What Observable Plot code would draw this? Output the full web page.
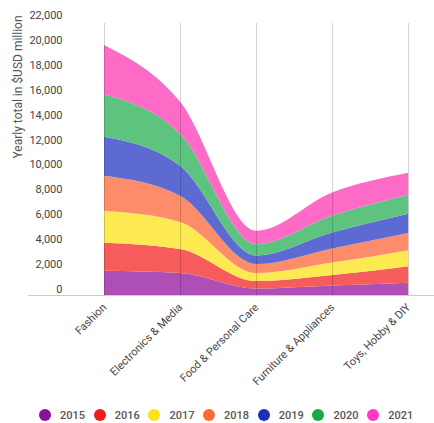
<!DOCTYPE html>
<html>
<head>
<meta charset="utf-8">
<script src="https://cdn.jsdelivr.net/npm/d3@7"></script>
<script src="https://cdn.jsdelivr.net/npm/@observablehq/plot@0.6"></script>
<style>
  html, body { margin: 0; padding: 0; background: #fff; overflow: hidden; }
  body { width: 434px; height: 423px; font-family: Roboto, "Noto Sans", sans-serif; }
  #legend { display: flex; padding-top: 12px; height: 16px; margin-left: 39px; }
  .item { display: flex; align-items: center; width: 54.7px; flex: none; font-size: 11px; color: #555; font-weight: 500; }
  .dot { width: 12px; height: 12px; border-radius: 50%; margin-right: 9px; flex: none; }
</style>
</head>
<body>
<div id="chart"></div>
<div id="legend"></div>
<script>
const categories = ["Fashion", "Electronics & Media", "Food & Personal Care", "Furniture & Appliances", "Toys, Hobby & DIY"];
const years = ["2015", "2016", "2017", "2018", "2019", "2020", "2021"];
const v2015 = [1950, 1770, 520, 760, 990];
const v2016 = [2250, 1930, 600, 840, 1320];
const v2017 = [2570, 2170, 640, 1000, 1290];
const v2018 = [2810, 2090, 720, 1140, 1370];
const v2019 = [3130, 2410, 680, 1270, 1550];
const v2020 = [3410, 2570, 920, 1370, 1530];
const v2021 = [3960, 2570, 1070, 1850, 1770];
const yTicks = [0, 2000, 4000, 6000, 8000, 10000, 12000, 14000, 16000, 18000, 20000, 22000];

const areaColors = ["#ad4fb4", "#f75c5c", "#fde952", "#fd8c6a", "#5c6ad1", "#5ec37f", "#fd6bc6"];
const legendColors = ["#8a0f9c", "#f31b1b", "#ffe312", "#ff6a33", "#1f2fb5", "#18a84a", "#ff38c3"];

const series = [v2015, v2016, v2017, v2018, v2019, v2020, v2021];
const rows = [];
years.forEach((yr, s) => {
  categories.forEach((c, i) => rows.push({i, category: c, year: yr, value: series[s][i]}));
});
const idx = categories.map((c, i) => i);

const chart = Plot.plot({
  width: 434,
  height: 395,
  marginLeft: 28,
  marginRight: 0,
  marginTop: 21,
  marginBottom: 100,
  style: {fontFamily: "Roboto, 'Noto Sans', sans-serif", fontSize: "11px", color: "#444", background: "#fff"},
  x: {type: "linear", domain: [-1, 4.34]},
  y: {domain: [0, 22000]},
  color: {domain: years, range: areaColors},
  marks: [
    Plot.areaY(rows, {x: "i", y: "value", fill: "year", curve: "monotone-x"}),
    Plot.ruleX(idx, {x: d => d, stroke: "#000", strokeOpacity: 0.18, insetTop: 2}),
    Plot.ruleY([0], {stroke: "#ccc"}),
    Plot.axisY({ticks: yTicks, tickFormat: d3.format(","), tickSize: 0, tickPadding: 3, dx: 37, dy: -6, label: null, fill: "#444"}),
    Plot.axisX({ticks: idx, tickFormat: i => categories[i], tickSize: 0, tickRotate: -45, tickPadding: 10, label: null, fill: "#444"}),
    Plot.text(["Yearly total in $USD million"], {frameAnchor: "left", rotate: -90, dx: -10, fill: "#555", fontSize: 12})
  ]
});
document.getElementById("chart").appendChild(chart);

const legend = document.getElementById("legend");
years.forEach((yr, k) => {
  const item = document.createElement("div");
  item.className = "item";
  const dot = document.createElement("span");
  dot.className = "dot";
  dot.style.background = legendColors[k];
  item.appendChild(dot);
  item.appendChild(document.createTextNode(yr));
  legend.appendChild(item);
});
</script>
</body>
</html>
